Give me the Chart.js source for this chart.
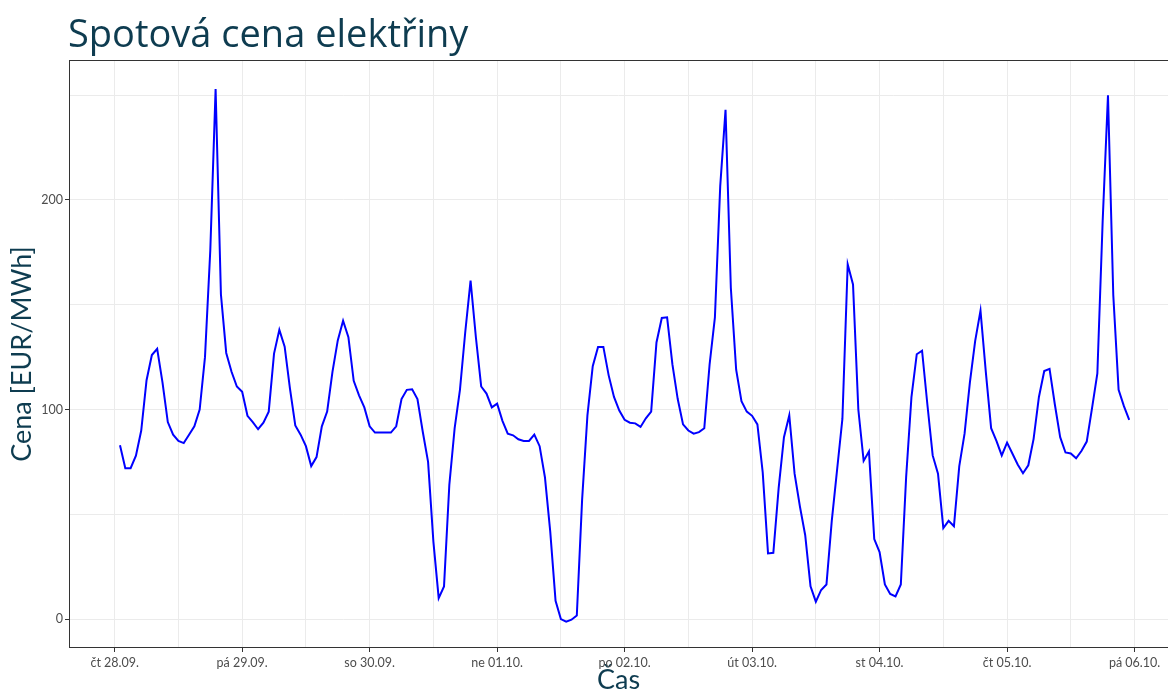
<!DOCTYPE html>
<html>
<head>
<meta charset="utf-8">
<script src="https://cdn.jsdelivr.net/npm/chart.js@4.4.0/dist/chart.umd.min.js"></script>
<style>
  html, body { margin: 0; padding: 0; background: #fff; }
  #wrap { width: 1168px; height: 691px; position: relative; }
</style>
</head>
<body>
<div id="wrap"><canvas id="priceChart"></canvas></div>
<script>
// hodinové ceny od 28.09. 01:00 do 05.10. 23:00
const startHour = 1;
const prices = [
  83, 72, 72, 78, 90, 114, 126, 129, 113, 94, 88, 85, 84, 88, 92, 100, 125, 176, 253, 155, 127, 118, 111, 108.5,
  97, 94, 90.6, 93.7, 99, 126.7, 138, 130, 110, 92.4, 88, 82.5, 73, 77.3, 92, 99, 118, 133, 142.4, 134.5, 113.7, 106.8, 101, 92,
  89, 89, 89, 89, 92, 105, 109.4, 109.7, 105, 89.4, 75, 37, 10, 15.6, 64, 91, 109.4, 137, 161.5, 134.5, 111, 107.6, 101, 102.8,
  94.6, 88.5, 87.7, 85.8, 85, 85, 88, 82.5, 67.7, 41.7, 8.7, 0, -1.2, -0.3, 1.7, 57, 97.2, 120.7, 129.9, 129.9, 116.3, 106, 99.5, 95.1,
  93.7, 93.4, 91.7, 95.8, 99, 132, 143.7, 144, 121.5, 105, 92.9, 90, 88.5, 89.2, 91.1, 121.5, 144, 206.6, 243, 158, 119, 104, 99, 97,
  92.9, 70, 31.3, 31.6, 62.5, 86.8, 97.2, 69.4, 53.8, 40, 15.6, 8.3, 13.9, 16.5, 46.9, 71.2, 95.5, 169.3, 159.7, 100, 75.5, 80, 38.2, 32,
  16.5, 12, 10.8, 16.5, 67.7, 105.9, 126.4, 128.1, 102.4, 78.1, 69.4, 43.4, 46.9, 44.3, 72.9, 88.5, 112.8, 132.8, 147.2, 118, 91.1, 85, 78.1, 84.2,
  79, 73.8, 69.6, 73.4, 86, 106, 118.4, 119.4, 102.4, 86.8, 79.5, 79, 76.7, 80.2, 84.7, 100.7, 117.2, 190, 250, 154.5, 109.4, 101.6, 95.1
];
const dayLabels = ['čt 28.09.', 'pá 29.09.', 'so 30.09.', 'ne 01.10.', 'po 02.10.', 'út 03.10.', 'st 04.10.', 'čt 05.10.', 'pá 06.10.'];
const yTicks = [0, 50, 100, 150, 200, 250];
const yLabelled = [0, 100, 200];

const titleColor = '#0e3c50';
const tickColor = '#4d4d4d';
const gridColor = '#ebebeb';

const points = prices.map((v, i) => ({ x: startHour + i, y: v }));
const xTicks = [];
for (let h = 0; h <= (dayLabels.length - 1) * 24; h += 12) xTicks.push(h);

// nadpis a rámeček panelu
const frame = {
  id: 'frame',
  afterDraw(chart) {
    const { ctx, chartArea: a } = chart;
    ctx.save();
    ctx.strokeStyle = '#333333';
    ctx.lineWidth = 1;
    ctx.strokeRect(a.left + 0.5, a.top + 0.5, a.right - a.left, a.bottom - a.top - 1);
    ctx.fillStyle = titleColor;
    ctx.font = '38px "Open Sans"';
    ctx.textBaseline = 'alphabetic';
    ctx.fillText('Spotová cena elektřiny', 68, 47);
    ctx.restore();
  }
};

Chart.defaults.font.family = 'Lato';

const ctx = document.getElementById('priceChart').getContext('2d');
new Chart(ctx, {
  type: 'line',
  data: {
    datasets: [{
      label: 'Cena',
      data: points,
      borderColor: '#0000ff',
      borderWidth: 2,
      pointRadius: 0,
      tension: 0,
      fill: false
    }]
  },
  options: {
    responsive: true,
    maintainAspectRatio: false,
    animation: false,
    layout: { padding: { top: 60, left: 0, right: 0, bottom: 0 } },
    plugins: {
      legend: { display: false },
      tooltip: { enabled: false }
    },
    scales: {
      x: {
        type: 'linear',
        min: -8.6,
        max: 198.3,
        afterBuildTicks: axis => { axis.ticks = xTicks.map(v => ({ value: v })); },
        afterFit: scale => { scale.height = 43; },
        ticks: {
          autoSkip: false,
          maxRotation: 0,
          padding: 3,
          color: tickColor,
          font: { size: 12.5 },
          callback: v => (v % 24 === 0 ? dayLabels[v / 24] : '')
        },
        grid: {
          color: gridColor,
          lineWidth: 1,
          tickLength: 4,
          tickColor: c => (c.tick && c.tick.value % 24 === 0 ? '#333333' : 'rgba(0,0,0,0)')
        },
        border: { display: false },
        title: {
          display: true,
          text: 'Čas',
          color: titleColor,
          font: { size: 27, lineHeight: 1 },
          padding: { top: 0, bottom: -3 }
        }
      },
      y: {
        min: -13.8,
        max: 266.8,
        afterBuildTicks: axis => { axis.ticks = yTicks.map(v => ({ value: v })); },
        afterFit: scale => { scale.width = 69; },
        ticks: {
          padding: 2,
          color: tickColor,
          font: { size: 12.5 },
          callback: v => (yLabelled.includes(v) ? String(v) : '')
        },
        grid: {
          color: gridColor,
          lineWidth: 1,
          tickLength: 4,
          tickColor: c => (c.tick && yLabelled.includes(c.tick.value) ? '#333333' : 'rgba(0,0,0,0)')
        },
        border: { display: false },
        title: {
          display: true,
          text: 'Cena [EUR/MWh]',
          color: titleColor,
          font: { size: 27, lineHeight: 1 },
          padding: { top: 9, bottom: 0 }
        }
      }
    }
  },
  plugins: [frame]
});
</script>
</body>
</html>
